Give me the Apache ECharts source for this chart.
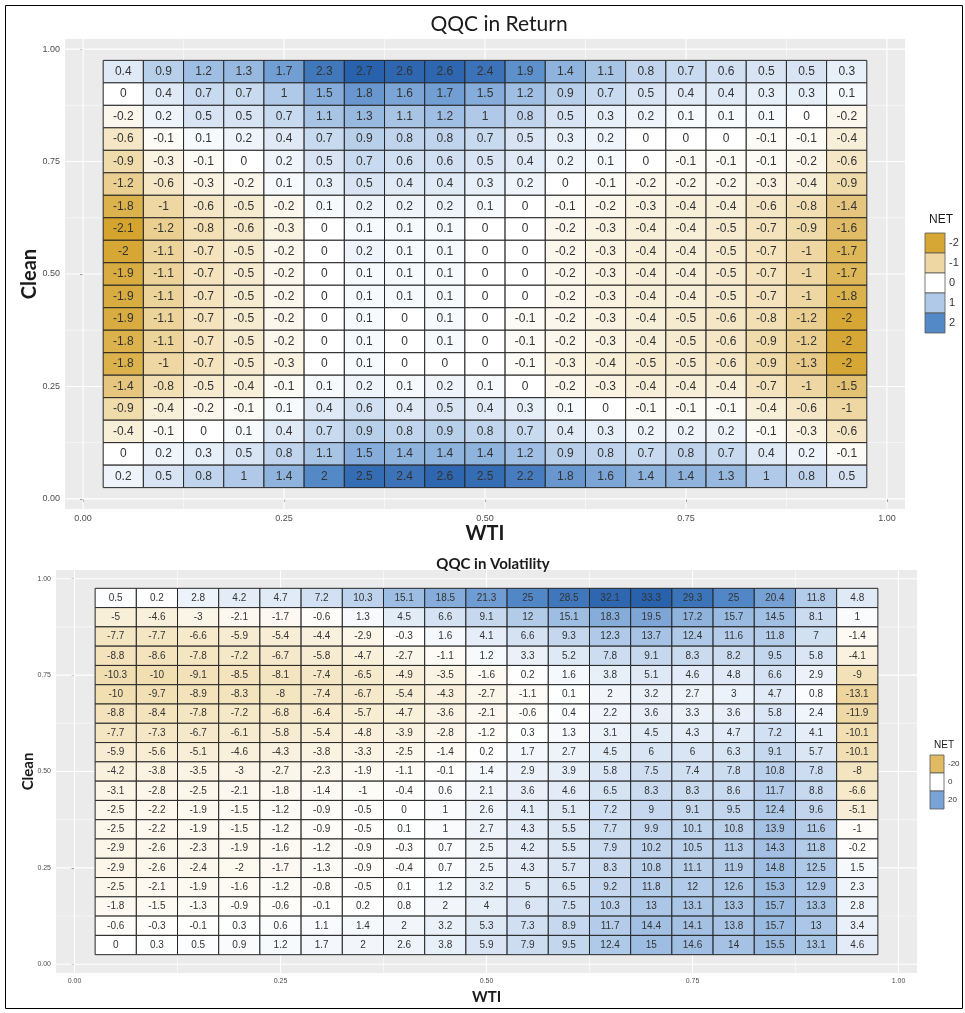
<!DOCTYPE html>
<html><head><meta charset="utf-8">
<script src="https://cdn.jsdelivr.net/npm/echarts@6/dist/echarts.min.js"></script>
<style>html,body{margin:0;padding:0;background:#fff}#c{width:965px;height:1013px}</style>
</head><body><div id="c"></div>
<script>
// ---------------- data ----------------
const WTI = [0.05,0.10,0.15,0.20,0.25,0.30,0.35,0.40,0.45,0.50,0.55,0.60,0.65,0.70,0.75,0.80,0.85,0.90,0.95];
const CLEAN = [0.95,0.90,0.85,0.80,0.75,0.70,0.65,0.60,0.55,0.50,0.45,0.40,0.35,0.30,0.25,0.20,0.15,0.10,0.05];

const RETURN_NET = [
 [0.4,0.9,1.2,1.3,1.7,2.3,2.7,2.6,2.6,2.4,1.9,1.4,1.1,0.8,0.7,0.6,0.5,0.5,0.3],
 [0,0.4,0.7,0.7,1,1.5,1.8,1.6,1.7,1.5,1.2,0.9,0.7,0.5,0.4,0.4,0.3,0.3,0.1],
 [-0.2,0.2,0.5,0.5,0.7,1.1,1.3,1.1,1.2,1,0.8,0.5,0.3,0.2,0.1,0.1,0.1,0,-0.2],
 [-0.6,-0.1,0.1,0.2,0.4,0.7,0.9,0.8,0.8,0.7,0.5,0.3,0.2,0,0,0,-0.1,-0.1,-0.4],
 [-0.9,-0.3,-0.1,0,0.2,0.5,0.7,0.6,0.6,0.5,0.4,0.2,0.1,0,-0.1,-0.1,-0.1,-0.2,-0.6],
 [-1.2,-0.6,-0.3,-0.2,0.1,0.3,0.5,0.4,0.4,0.3,0.2,0,-0.1,-0.2,-0.2,-0.2,-0.3,-0.4,-0.9],
 [-1.8,-1,-0.6,-0.5,-0.2,0.1,0.2,0.2,0.2,0.1,0,-0.1,-0.2,-0.3,-0.4,-0.4,-0.6,-0.8,-1.4],
 [-2.1,-1.2,-0.8,-0.6,-0.3,0,0.1,0.1,0.1,0,0,-0.2,-0.3,-0.4,-0.4,-0.5,-0.7,-0.9,-1.6],
 [-2,-1.1,-0.7,-0.5,-0.2,0,0.2,0.1,0.1,0,0,-0.2,-0.3,-0.4,-0.4,-0.5,-0.7,-1,-1.7],
 [-1.9,-1.1,-0.7,-0.5,-0.2,0,0.1,0.1,0.1,0,0,-0.2,-0.3,-0.4,-0.4,-0.5,-0.7,-1,-1.7],
 [-1.9,-1.1,-0.7,-0.5,-0.2,0,0.1,0.1,0.1,0,0,-0.2,-0.3,-0.4,-0.4,-0.5,-0.7,-1,-1.8],
 [-1.9,-1.1,-0.7,-0.5,-0.2,0,0.1,0,0.1,0,-0.1,-0.2,-0.3,-0.4,-0.5,-0.6,-0.8,-1.2,-2],
 [-1.8,-1.1,-0.7,-0.5,-0.2,0,0.1,0,0.1,0,-0.1,-0.2,-0.3,-0.4,-0.5,-0.6,-0.9,-1.2,-2],
 [-1.8,-1,-0.7,-0.5,-0.3,0,0.1,0,0,0,-0.1,-0.3,-0.4,-0.5,-0.5,-0.6,-0.9,-1.3,-2],
 [-1.4,-0.8,-0.5,-0.4,-0.1,0.1,0.2,0.1,0.2,0.1,0,-0.2,-0.3,-0.4,-0.4,-0.4,-0.7,-1,-1.5],
 [-0.9,-0.4,-0.2,-0.1,0.1,0.4,0.6,0.4,0.5,0.4,0.3,0.1,0,-0.1,-0.1,-0.1,-0.4,-0.6,-1],
 [-0.4,-0.1,0,0.1,0.4,0.7,0.9,0.8,0.9,0.8,0.7,0.4,0.3,0.2,0.2,0.2,-0.1,-0.3,-0.6],
 [0,0.2,0.3,0.5,0.8,1.1,1.5,1.4,1.4,1.4,1.2,0.9,0.8,0.7,0.8,0.7,0.4,0.2,-0.1],
 [0.2,0.5,0.8,1,1.4,2,2.5,2.4,2.6,2.5,2.2,1.8,1.6,1.4,1.4,1.3,1,0.8,0.5]
];

const VOL_NET = [
 [0.5,0.2,2.8,4.2,4.7,7.2,10.3,15.1,18.5,21.3,25,28.5,32.1,33.3,29.3,25,20.4,11.8,4.8],
 [-5,-4.6,-3,-2.1,-1.7,-0.6,1.3,4.5,6.6,9.1,12,15.1,18.3,19.5,17.2,15.7,14.5,8.1,1],
 [-7.7,-7.7,-6.6,-5.9,-5.4,-4.4,-2.9,-0.3,1.6,4.1,6.6,9.3,12.3,13.7,12.4,11.6,11.8,7,-1.4],
 [-8.8,-8.6,-7.8,-7.2,-6.7,-5.8,-4.7,-2.7,-1.1,1.2,3.3,5.2,7.8,9.1,8.3,8.2,9.5,5.8,-4.1],
 [-10.3,-10,-9.1,-8.5,-8.1,-7.4,-6.5,-4.9,-3.5,-1.6,0.2,1.6,3.8,5.1,4.6,4.8,6.6,2.9,-9],
 [-10,-9.7,-8.9,-8.3,-8,-7.4,-6.7,-5.4,-4.3,-2.7,-1.1,0.1,2,3.2,2.7,3,4.7,0.8,-13.1],
 [-8.8,-8.4,-7.8,-7.2,-6.8,-6.4,-5.7,-4.7,-3.6,-2.1,-0.6,0.4,2.2,3.6,3.3,3.6,5.8,2.4,-11.9],
 [-7.7,-7.3,-6.7,-6.1,-5.8,-5.4,-4.8,-3.9,-2.8,-1.2,0.3,1.3,3.1,4.5,4.3,4.7,7.2,4.1,-10.1],
 [-5.9,-5.6,-5.1,-4.6,-4.3,-3.8,-3.3,-2.5,-1.4,0.2,1.7,2.7,4.5,6,6,6.3,9.1,5.7,-10.1],
 [-4.2,-3.8,-3.5,-3,-2.7,-2.3,-1.9,-1.1,-0.1,1.4,2.9,3.9,5.8,7.5,7.4,7.8,10.8,7.8,-8],
 [-3.1,-2.8,-2.5,-2.1,-1.8,-1.4,-1,-0.4,0.6,2.1,3.6,4.6,6.5,8.3,8.3,8.6,11.7,8.8,-6.6],
 [-2.5,-2.2,-1.9,-1.5,-1.2,-0.9,-0.5,0,1,2.6,4.1,5.1,7.2,9,9.1,9.5,12.4,9.6,-5.1],
 [-2.5,-2.2,-1.9,-1.5,-1.2,-0.9,-0.5,0.1,1,2.7,4.3,5.5,7.7,9.9,10.1,10.8,13.9,11.6,-1],
 [-2.9,-2.6,-2.3,-1.9,-1.6,-1.2,-0.9,-0.3,0.7,2.5,4.2,5.5,7.9,10.2,10.5,11.3,14.3,11.8,-0.2],
 [-2.9,-2.6,-2.4,-2,-1.7,-1.3,-0.9,-0.4,0.7,2.5,4.3,5.7,8.3,10.8,11.1,11.9,14.8,12.5,1.5],
 [-2.5,-2.1,-1.9,-1.6,-1.2,-0.8,-0.5,0.1,1.2,3.2,5,6.5,9.2,11.8,12,12.6,15.3,12.9,2.3],
 [-1.8,-1.5,-1.3,-0.9,-0.6,-0.1,0.2,0.8,2,4,6,7.5,10.3,13,13.1,13.3,15.7,13.3,2.8],
 [-0.6,-0.3,-0.1,0.3,0.6,1.1,1.4,2,3.2,5.3,7.3,8.9,11.7,14.4,14.1,13.8,15.7,13,3.4],
 [0,0.3,0.5,0.9,1.2,1.7,2,2.6,3.8,5.9,7.9,9.5,12.4,15,14.6,14,15.5,13.1,4.6]
];

const TICK_VALUES = [0, 0.25, 0.5, 0.75, 1];
const TICK_LABELS = ['0.00', '0.25', '0.50', '0.75', '1.00'];
const GRID_LINE_VALUES = [0, 0.125, 0.25, 0.375, 0.5, 0.625, 0.75, 0.875, 1];
const RETURN_LEGEND = [-2, -1, 0, 1, 2];
const VOL_LEGEND = [-20, 0, 20];

// ---------------- styling helpers ----------------
const COLOR_STOPS = [
  [-1, [200,148,20]], [-0.75, [214,166,50]], [-0.5, [231,201,132]], [-0.25, [244,228,190]],
  [0, [255,255,255]],
  [0.25, [202,219,240]], [0.5, [147,182,223]], [0.75, [82,135,199]], [1, [40,98,172]]
];
function netColor(v, M) {
  const t = Math.max(-1, Math.min(1, v / M));
  for (let i = 0; i < COLOR_STOPS.length - 1; i++) {
    const a = COLOR_STOPS[i], b = COLOR_STOPS[i + 1];
    if (t >= a[0] && t <= b[0]) {
      const f = (t - a[0]) / (b[0] - a[0]);
      const c = a[1].map((x, k) => Math.round(x + (b[1][k] - x) * f));
      return 'rgb(' + c.join(',') + ')';
    }
  }
  return '#fff';
}
const maxAbs = rows => Math.max(...rows.flat().map(Math.abs));
const RETURN_M = maxAbs(RETURN_NET);
const VOL_M = maxAbs(VOL_NET);

function toCells(rows) {
  const out = [];
  rows.forEach((row, r) => row.forEach((v, c) => out.push([WTI[c], CLEAN[r], v])));
  return out;
}
const HALF = (WTI[1] - WTI[0]) / 2;

function tileRender(M, fontSize) {
  return function (params, api) {
    const x = api.value(0), y = api.value(1), v = api.value(2);
    const p1 = api.coord([x - HALF, y + HALF]);
    const p2 = api.coord([x + HALF, y - HALF]);
    const c = api.coord([x, y]);
    return {
      type: 'group',
      children: [
        { type: 'rect', shape: { x: p1[0], y: p1[1], width: p2[0] - p1[0], height: p2[1] - p1[1] },
          style: { fill: netColor(v, M), stroke: '#262626', lineWidth: 1 } },
        { type: 'text', style: { text: String(v), x: c[0], y: c[1], align: 'center', verticalAlign: 'middle',
          fill: '#333', font: fontSize + 'px "Liberation Sans", Arial, sans-serif' } }
      ]
    };
  };
}
function gridLineRender(params, api) {
  const v = api.value(0), orient = api.value(2);
  const cs = params.coordSys;
  const major = Math.abs(v * 4 - Math.round(v * 4)) < 1e-9;
  const style = { stroke: '#ffffff', lineWidth: major ? 1.1 : 0.55 };
  if (orient === 0) {
    const p = api.coord([v, 0.5]);
    return { type: 'line', shape: { x1: p[0], y1: cs.y, x2: p[0], y2: cs.y + cs.height }, style };
  }
  const p = api.coord([0.5, v]);
  return { type: 'line', shape: { x1: cs.x, y1: p[1], x2: cs.x + cs.width, y2: p[1] }, style };
}
const gridLineData = GRID_LINE_VALUES.flatMap(v => [[v, v, 0], [v, v, 1]]);

function makeAxis(kind, opts) {
  return {
    type: 'value', gridIndex: opts.grid, min: -0.0225, max: 1.0225,
    axisLine: { show: false },
    axisTick: { show: true, customValues: TICK_VALUES, length: 3, lineStyle: { color: '#333', width: 1 } },
    axisLabel: { customValues: TICK_VALUES, formatter: v => TICK_LABELS[TICK_VALUES.indexOf(v)] ?? '',
      fontSize: opts.labelSize, color: '#4d4d4d', margin: opts.margin, fontFamily: '"Liberation Sans", Arial, sans-serif' },
    splitLine: { show: false },
    name: opts.name, nameLocation: 'middle', nameGap: opts.nameGap, nameMoveOverlap: false,
    nameRotate: kind === 'y' ? 90 : 0,
    nameTextStyle: { fontSize: opts.nameSize, fontWeight: 'bold', color: '#1a1a1a', fontFamily: 'Lato, "Open Sans", sans-serif' }
  };
}

function legendGraphic(values, M, o) {
  const children = [{ type: 'text', x: o.x, y: o.y, style: { text: 'NET', fill: '#1a1a1a',
    font: o.titleSize + 'px "Liberation Sans", Arial, sans-serif', verticalAlign: 'top' } }];
  values.forEach((v, i) => {
    const ky = o.y + o.titleGap + i * o.h;
    children.push({ type: 'rect', shape: { x: o.x - 4, y: ky, width: o.w, height: o.h },
      style: { fill: netColor(v, M), stroke: '#555', lineWidth: 0.8 } });
    children.push({ type: 'text', x: o.x - 4 + o.w + 4, y: ky + o.h / 2,
      style: { text: String(v), fill: '#333', verticalAlign: 'middle',
        font: o.labelSize + 'px "Liberation Sans", Arial, sans-serif' } });
  });
  return { type: 'group', children };
}

const chart = echarts.init(document.getElementById('c'), null, { renderer: 'canvas' });
chart.setOption({
  animation: false,
  backgroundColor: '#ffffff',
  title: [
    { text: 'QQC in Return', left: 494, top: 9, textAlign: 'center',
      textStyle: { fontSize: 21, fontWeight: 'normal', color: '#1a1a1a', fontFamily: 'Lato, sans-serif' } },
    { text: 'QQC in Volatility', left: 488, top: 552, textAlign: 'center',
      textStyle: { fontSize: 15, fontWeight: 'bold', color: '#1a1a1a', fontFamily: 'Lato, sans-serif' } }
  ],
  grid: [
    { left: 65, top: 39, width: 840, height: 470, show: true, backgroundColor: '#EBEBEB', borderWidth: 0, outerBoundsMode: 'none' },
    { left: 56, top: 570, width: 861, height: 403, show: true, backgroundColor: '#EBEBEB', borderWidth: 0, outerBoundsMode: 'none' }
  ],
  xAxis: [
    makeAxis('x', { grid: 0, name: 'WTI', nameGap: 15, nameSize: 20, labelSize: 9, margin: 5 }),
    makeAxis('x', { grid: 1, name: 'WTI', nameGap: 17, nameSize: 15, labelSize: 7, margin: 5 })
  ],
  yAxis: [
    makeAxis('y', { grid: 0, name: 'Clean', nameGap: 25, nameSize: 20, labelSize: 9, margin: 5 }),
    makeAxis('y', { grid: 1, name: 'Clean', nameGap: 20, nameSize: 15, labelSize: 7, margin: 5 })
  ],
  series: [
    { type: 'custom', xAxisIndex: 0, yAxisIndex: 0, z: 1, silent: true, encode: { x: 0, y: 1 },
      data: gridLineData, renderItem: gridLineRender },
    { type: 'custom', name: 'Return', xAxisIndex: 0, yAxisIndex: 0, z: 2, encode: { x: 0, y: 1 },
      data: toCells(RETURN_NET), renderItem: tileRender(RETURN_M, 12) },
    { type: 'custom', xAxisIndex: 1, yAxisIndex: 1, z: 1, silent: true, encode: { x: 0, y: 1 },
      data: gridLineData, renderItem: gridLineRender },
    { type: 'custom', name: 'Volatility', xAxisIndex: 1, yAxisIndex: 1, z: 2, encode: { x: 0, y: 1 },
      data: toCells(VOL_NET), renderItem: tileRender(VOL_M, 10) }
  ],
  graphic: [
    { type: 'rect', shape: { x: 5.5, y: 5.5, width: 957, height: 1003 }, style: { fill: 'none', stroke: '#000', lineWidth: 1 }, z: 100 },
    legendGraphic(RETURN_LEGEND, RETURN_M, { x: 929, y: 214, titleGap: 19, w: 20, h: 20, titleSize: 12, labelSize: 11 }),
    legendGraphic(VOL_LEGEND, VOL_M, { x: 934, y: 740, titleGap: 15, w: 14, h: 18, titleSize: 10, labelSize: 8 })
  ]
});
</script></body></html>
